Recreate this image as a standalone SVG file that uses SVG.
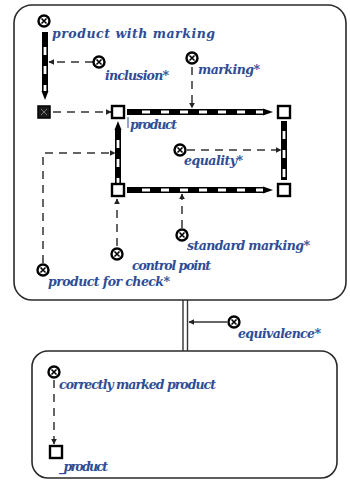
<svg xmlns="http://www.w3.org/2000/svg" width="350" height="481" viewBox="0 0 350 481">
<defs>
<marker id="ah" viewBox="0 0 10 10" refX="9" refY="5" markerWidth="6" markerHeight="6" orient="auto" markerUnits="userSpaceOnUse"><path d="M0,0 L10,5 L0,10 Z" fill="#222"/></marker>
<style>
.box{fill:#fff;stroke:#2a2a2a;stroke-width:1.6}
.lbl{font-family:"DejaVu Serif","Liberation Serif",serif;font-style:italic;font-weight:bold;font-size:12.5px;fill:#2e4d96}
.dash{fill:none;stroke:#333;stroke-width:1.5;stroke-dasharray:8 6}
.solid{fill:none;stroke:#333;stroke-width:1.5}
.barB{stroke:#000;stroke-width:6;fill:none}
.barW{stroke:#fff;stroke-width:2.8;fill:none;stroke-dasharray:8 11}
.sq{fill:#fff;stroke:#000;stroke-width:2.4}
.cir{fill:#fff;stroke:#000;stroke-width:2.4}
.x{stroke:#000;stroke-width:1.6}
</style>
</defs>
<rect width="350" height="481" fill="#fff"/>
<rect class="box" x="14" y="5" width="332" height="295" rx="18"/>
<rect class="box" x="32" y="351" width="305" height="127" rx="16"/>

<g id="connectors">
<line x1="183" y1="300" x2="183" y2="351" stroke="#333" stroke-width="1.4"/>
<line x1="187.5" y1="300" x2="187.5" y2="351" stroke="#333" stroke-width="1.4"/>
<line class="solid" x1="227" y1="322" x2="189" y2="322" marker-end="url(#ah)"/>
<line class="dash" x1="93" y1="62" x2="49" y2="62" marker-end="url(#ah)"/>
<line class="dash" x1="53" y1="112" x2="111" y2="112" marker-end="url(#ah)"/>
<line class="dash" x1="192" y1="67" x2="192" y2="108" marker-end="url(#ah)"/>
<polyline class="dash" points="43,263 43,153 115,153" marker-end="url(#ah)"/>
<line class="dash" x1="117" y1="246" x2="117" y2="199" marker-end="url(#ah)"/>
<line class="dash" x1="187" y1="150" x2="281" y2="150" marker-end="url(#ah)"/>
<line class="dash" x1="182" y1="228" x2="182" y2="194" marker-end="url(#ah)"/>
<line class="dash" x1="54" y1="380" x2="54" y2="444" marker-end="url(#ah)"/>
<line x1="128" y1="117" x2="128" y2="128" stroke="#2e4d96" stroke-width="1"/>

<line class="barB" x1="45" y1="32" x2="45" y2="92"/>
<line class="barW" x1="45" y1="47" x2="45" y2="92"/>
<path d="M41.5,91 L48.5,91 L45,100 Z" fill="#000"/>
<line class="barB" x1="127" y1="112" x2="265" y2="112"/>
<line class="barW" x1="142" y1="112" x2="265" y2="112"/>
<path d="M263,108.5 L273,112 L263,115.5 Z" fill="#000"/>
<line class="barB" x1="127" y1="190" x2="265" y2="190"/>
<line class="barW" x1="142" y1="190" x2="265" y2="190"/>
<path d="M263,186.5 L273,190 L263,193.5 Z" fill="#000"/>
<line class="barB" x1="118" y1="129" x2="118" y2="183"/>
<line class="barW" x1="118" y1="140" x2="118" y2="183"/>
<path d="M114.5,130 L121.5,130 L118,121 Z" fill="#000"/>
<line class="barB" x1="284" y1="121" x2="284" y2="180"/>
<line class="barW" x1="284" y1="131" x2="284" y2="178" stroke-dasharray="12 8"/>
</g>

<g id="n-product-with-marking"><circle class="cir" cx="44" cy="21" r="5.5"/><path class="x" d="M41.5,18.5 L46.5,23.5 M46.5,18.5 L41.5,23.5"/><text class="lbl" x="52" y="38" textLength="163" lengthAdjust="spacing">product with marking</text></g>
<g id="n-inclusion"><circle class="cir" cx="99" cy="62" r="5.5"/><path class="x" d="M96.5,59.5 L101.5,64.5 M101.5,59.5 L96.5,64.5"/><text class="lbl" x="105" y="80" textLength="64" lengthAdjust="spacing">inclusion*</text></g>
<g id="n-marking"><circle class="cir" cx="192" cy="58" r="5.5"/><path class="x" d="M189.5,55.5 L194.5,60.5 M194.5,55.5 L189.5,60.5"/><text class="lbl" x="198" y="74" textLength="62" lengthAdjust="spacing">marking*</text></g>
<g id="n-filled"><rect x="38" y="106" width="12" height="12" fill="#1a1a1a" stroke="#000" stroke-width="1.5"/><path d="M41,109 L47,115 M47,109 L41,115" stroke="#777" stroke-width="1"/></g>
<g id="n-product"><rect class="sq" x="112" y="106" width="12" height="12"/><text class="lbl" x="130" y="129" textLength="47" lengthAdjust="spacing">product</text></g>
<g id="n-top-right"><rect class="sq" x="278" y="106" width="12" height="12"/></g>
<g id="n-equality"><circle class="cir" cx="180" cy="150" r="5.5"/><path class="x" d="M177.5,147.5 L182.5,152.5 M182.5,147.5 L177.5,152.5"/><text class="lbl" x="184" y="165" textLength="59" lengthAdjust="spacing">equality*</text></g>
<g id="n-bottom-left"><rect class="sq" x="112" y="184" width="12" height="12"/></g>
<g id="n-bottom-right"><rect class="sq" x="278" y="184" width="12" height="12"/></g>
<g id="n-standard-marking"><circle class="cir" cx="182" cy="235" r="5.5"/><path class="x" d="M179.5,232.5 L184.5,237.5 M184.5,232.5 L179.5,237.5"/><text class="lbl" x="187" y="250" textLength="123" lengthAdjust="spacing">standard marking*</text></g>
<g id="n-control-point"><circle class="cir" cx="117" cy="254" r="5.5"/><path class="x" d="M114.5,251.5 L119.5,256.5 M119.5,251.5 L114.5,256.5"/><text class="lbl" x="132" y="270" textLength="79" lengthAdjust="spacing">control point</text></g>
<g id="n-product-for-check"><circle class="cir" cx="43" cy="270" r="5.5"/><path class="x" d="M40.5,267.5 L45.5,272.5 M45.5,267.5 L40.5,272.5"/><text class="lbl" x="48" y="286" textLength="122" lengthAdjust="spacing">product for check*</text></g>
<g id="n-equivalence"><circle class="cir" cx="234" cy="322" r="5.5"/><path class="x" d="M231.5,319.5 L236.5,324.5 M236.5,319.5 L231.5,324.5"/><text class="lbl" x="238" y="338" textLength="83" lengthAdjust="spacing">equivalence*</text></g>
<g id="n-correctly-marked-product"><circle class="cir" cx="54" cy="372" r="5.5"/><path class="x" d="M51.5,369.5 L56.5,374.5 M56.5,369.5 L51.5,374.5"/><text class="lbl" x="59" y="389" textLength="157" lengthAdjust="spacing">correctly marked product</text></g>
<g id="n-product-2"><rect class="sq" x="50" y="446" width="12" height="12"/><text class="lbl" x="59" y="471" textLength="49" lengthAdjust="spacing">_product</text></g>
</svg>
